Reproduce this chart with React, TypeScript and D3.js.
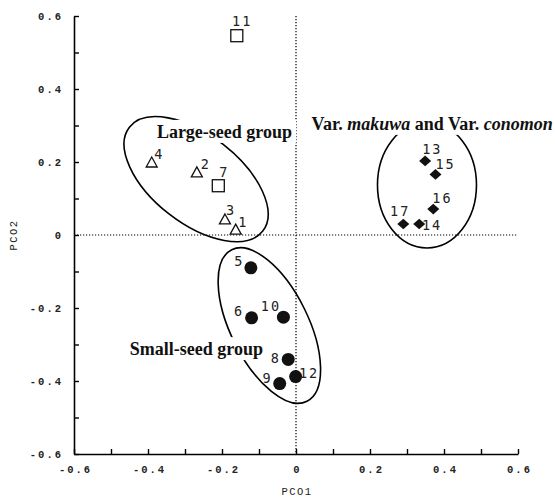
import React, { useEffect, useRef } from "react";
import * as d3 from "d3";

// ---- data ----
const ids = ["1", "2", "3", "4", "5", "6", "7", "8", "9", "10", "11", "12", "13", "14", "15", "16", "17"];
const pco1 = [-0.163, -0.268, -0.192, -0.39, -0.122, -0.12, -0.21, -0.021, -0.044, -0.034, -0.16, -0.001, 0.349, 0.333, 0.377, 0.371, 0.29];
const pco2 = [0.016, 0.173, 0.044, 0.2, -0.09, -0.227, 0.135, -0.341, -0.407, -0.225, 0.546, -0.388, 0.203, 0.03, 0.166, 0.071, 0.03];
const shapes = ["triangle", "triangle", "triangle", "triangle", "circle", "circle", "square", "circle", "circle", "circle", "square", "circle", "diamond", "diamond", "diamond", "diamond", "diamond"];
// label offsets (px) relative to point
const labelDx = [2.5, 4, 1, 2.5, -16.7, -17.7, 1, -17.6, -17.3, -22.6, -4.7, 3.3, -3, 2.7, 0, -1, -13.3];
const labelDy = [-2, -2.7, -4, -3.5, -1.7, -1.7, -8.7, 3.7, -1, -6.6, -9.7, 1.3, -7, 6, -5.3, -6, -8];

const xTickValues = [-0.6, -0.5, -0.4, -0.3, -0.2, -0.1, 0, 0.1, 0.2, 0.3, 0.4, 0.5, 0.6];
const xTickLabels = ["-0.6", "", "-0.4", "", "-0.2", "", "0", "", "0.2", "", "0.4", "", "0.6"];
const yTickValues = [-0.6, -0.5, -0.4, -0.3, -0.2, -0.1, 0, 0.1, 0.2, 0.3, 0.4, 0.5, 0.6];
const yTickLabels = ["-0.6", "", "-0.4", "", "-0.2", "", "0", "", "0.2", "", "0.4", "", "0.6"];

// group ellipses: center in data units, semi-axes in px, rotation deg
const ellipseCx = [-0.27, -0.072, 0.354];
const ellipseCy = [0.153, -0.248, 0.137];
const ellipseA = [84.5, 84.6, 49.5];
const ellipseB = [44.1, 38.8, 63];
const ellipseRot = [37.9, 63.6, 0];

// group titles
const groupTitleX = [-0.376, -0.449, 0.042];
const groupTitleY = [0.266, -0.329, 0.288];

export default function App() {
  const ref = useRef<SVGSVGElement | null>(null);

  useEffect(() => {
    const svg = d3.select(ref.current);
    svg.selectAll("*").remove();

    const x = d3.scaleLinear().domain([-0.6, 0.6]).range([74, 518]);
    const y = d3.scaleLinear().domain([-0.6, 0.6]).range([454, 16]);

    const monoTick = "'Liberation Mono', 'DejaVu Sans Mono', monospace";
    const monoLab = "'DejaVu Sans Mono', monospace";
    const serif = "'Liberation Serif', 'Times New Roman', serif";

    // dotted zero lines
    svg.append("line")
      .attr("x1", x(-0.6)).attr("x2", x(0.6))
      .attr("y1", y(0)).attr("y2", y(0))
      .attr("stroke", "#000").attr("stroke-width", 1.2)
      .attr("stroke-dasharray", "1.2,1.8");
    svg.append("line")
      .attr("x1", x(0)).attr("x2", x(0))
      .attr("y1", y(0.6)).attr("y2", y(-0.6))
      .attr("stroke", "#000").attr("stroke-width", 1.2)
      .attr("stroke-dasharray", "1.2,1.8");

    // axes
    const xAxis = d3.axisBottom(x)
      .tickValues(xTickValues)
      .tickSize(-5)
      .tickSizeOuter(0)
      .tickPadding(12)
      .tickFormat((d, i) => xTickLabels[i]);
    const gx = svg.append("g").attr("transform", `translate(0,${y(-0.6)})`).call(xAxis);
    const yAxis = d3.axisLeft(y)
      .tickValues(yTickValues)
      .tickSize(-5)
      .tickSizeOuter(0)
      .tickPadding(11)
      .tickFormat((d, i) => yTickLabels[i]);
    const gy = svg.append("g").attr("transform", `translate(${x(-0.6)},0)`).call(yAxis);

    [gx, gy].forEach((g) => {
      g.select(".domain").attr("stroke", "#000").attr("stroke-width", 1.6);
      g.selectAll(".tick line").attr("stroke", "#000").attr("stroke-width", 1.4);
      g.selectAll(".tick text")
        .attr("font-family", monoTick)
        .attr("font-size", 10.5)
        .attr("font-weight", "bold")
        .attr("letter-spacing", 2)
        .attr("fill", "#222");
    });
    gx.selectAll(".tick text").attr("dx", 1);

    // axis titles
    svg.append("text")
      .attr("x", 297).attr("y", 495)
      .attr("text-anchor", "middle")
      .attr("font-family", monoTick).attr("font-size", 10.5)
      .attr("letter-spacing", 1.5)
      .attr("fill", "#222")
      .text("PCO1");
    svg.append("text")
      .attr("transform", `translate(17,${y(0)}) rotate(-90)`)
      .attr("text-anchor", "middle")
      .attr("font-family", monoTick).attr("font-size", 10.5)
      .attr("letter-spacing", 1.5)
      .attr("fill", "#222")
      .text("PCO2");

    // ellipses
    ellipseCx.forEach((cx, i) => {
      svg.append("ellipse")
        .attr("cx", 0).attr("cy", 0)
        .attr("rx", ellipseA[i]).attr("ry", ellipseB[i])
        .attr("transform", `translate(${x(cx)},${y(ellipseCy[i])}) rotate(${ellipseRot[i]})`)
        .attr("fill", "none").attr("stroke", "#000").attr("stroke-width", 1.6);
    });

    // group titles with white backing
    const titles = svg.append("g");
    const makeTitle = (i: number, parts: [string, boolean][]) => {
      const g = titles.append("g");
      const rect = g.append("rect").attr("fill", "#fff");
      const t = g.append("text")
        .attr("x", x(groupTitleX[i])).attr("y", y(groupTitleY[i]))
        .attr("font-family", serif).attr("font-size", 18)
        .attr("font-weight", "bold").attr("fill", "#111");
      parts.forEach(([s, it]) => {
        t.append("tspan").attr("font-style", it ? "italic" : "normal").text(s);
      });
      const bb = (t.node() as SVGTextElement).getBBox();
      rect.attr("x", bb.x - 4).attr("y", bb.y - 2).attr("width", bb.width + 8).attr("height", bb.height + 3);
    };
    makeTitle(0, [["Large-seed group", false]]);
    makeTitle(1, [["Small-seed group", false]]);
    makeTitle(2, [["Var. ", false], ["makuwa", true], [" and Var. ", false], ["conomon", true]]);

    // points
    const pts = svg.append("g");
    ids.forEach((id, i) => {
      const px = x(pco1[i]);
      const py = y(pco2[i]);
      const s = shapes[i];
      if (s === "circle") {
        pts.append("circle").attr("cx", px).attr("cy", py).attr("r", 6.5).attr("fill", "#111");
      } else if (s === "square") {
        pts.append("rect").attr("x", px - 6).attr("y", py - 6).attr("width", 12).attr("height", 12)
          .attr("fill", "#fff").attr("stroke", "#111").attr("stroke-width", 1.3);
      } else if (s === "triangle") {
        const p = d3.path();
        p.moveTo(px, py - 5);
        p.lineTo(px + 5.5, py + 5);
        p.lineTo(px - 5.5, py + 5);
        p.closePath();
        pts.append("path").attr("d", p.toString())
          .attr("fill", "#fff").attr("stroke", "#111").attr("stroke-width", 1.3);
      } else {
        const p = d3.path();
        p.moveTo(px, py - 5.3);
        p.lineTo(px + 6, py);
        p.lineTo(px, py + 5.3);
        p.lineTo(px - 6, py);
        p.closePath();
        pts.append("path").attr("d", p.toString()).attr("fill", "#111");
      }
      pts.append("text")
        .attr("x", px + labelDx[i]).attr("y", py + labelDy[i])
        .attr("font-family", monoLab).attr("font-size", 13.5)
        .attr("letter-spacing", 2)
        .attr("fill", "#222")
        .text(id);
    });
  }, []);

  return (
    <svg
      ref={ref}
      width={555}
      height={498}
      style={{ position: "absolute", left: 0, top: 0, background: "#fff" }}
    />
  );
}
